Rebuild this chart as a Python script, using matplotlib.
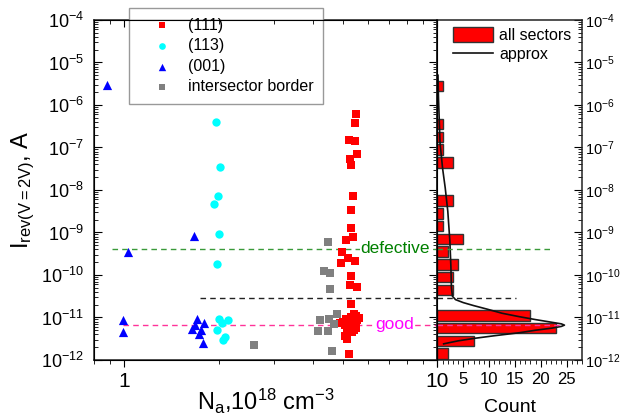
import matplotlib
matplotlib.use('Agg')
import matplotlib.pyplot as plt
from matplotlib.patches import Patch
from matplotlib.lines import Line2D
from matplotlib.ticker import LogLocator, MultipleLocator, NullFormatter, FuncFormatter

plt.rcParams['font.family'] = ['Liberation Sans', 'DejaVu Sans']
plt.rcParams['mathtext.fontset'] = 'custom'
plt.rcParams['mathtext.rm'] = 'Liberation Sans'
plt.rcParams['mathtext.it'] = 'Liberation Sans:italic'
plt.rcParams['mathtext.bf'] = 'Liberation Sans:bold'

# (111) sectors
na_111 = [5.49, 5.45, 5.2, 5.47, 5.55, 5.26, 5.29, 5.38, 5.3, 5.29, 5.36, 5.11, 4.95, 5.18,
          4.93, 5.45, 5.29, 5.26, 5.55, 5.29, 5.06, 5.13, 5.23,
          5.0, 5.1, 5.2, 5.3, 5.4, 5.5, 5.55, 5.45, 5.3, 5.15, 5.4, 5.25, 4.9, 5.6, 5.35, 5.5, 5.05]
i_111 = [6.3e-7, 3.8e-7, 1.5e-7, 1.4e-7, 7.0e-8, 5.3e-8, 3.8e-8, 7.2e-9, 3.4e-9, 1.3e-9, 7.9e-10,
         6.6e-10, 3.4e-10, 2.5e-10, 1.9e-10, 2.1e-10, 9.5e-11, 5.8e-11, 5.3e-11, 2.1e-11, 3.6e-12,
         3.2e-12, 1.4e-12,
         8e-12, 9e-12, 7e-12, 1.0e-11, 1.2e-11, 1.1e-11, 8.5e-12, 6.5e-12, 6e-12, 5.5e-12, 5e-12,
         8e-12, 7.5e-12, 9.5e-12, 4.5e-12, 5.8e-12, 6.8e-12]

# (113) sectors
na_113 = [1.96, 2.02, 1.99, 1.93, 2.0, 1.97, 2.0, 2.15, 2.05, 1.97, 2.10, 2.07]
i_113 = [3.9e-7, 3.4e-8, 7.2e-9, 4.7e-9, 9.3e-10, 1.8e-10, 9.1e-12, 8.7e-12, 7.3e-12, 5.2e-12,
         3.5e-12, 3.0e-12]

# (001) sectors
na_001 = [0.88, 1.03, 0.99, 0.99, 1.67, 1.71, 1.65, 1.80, 1.76, 1.73, 1.78, 1.68]
i_001 = [2.9e-6, 3.5e-10, 8.5e-12, 4.6e-12, 8.3e-10, 9.1e-12, 5.5e-12, 7.6e-12, 5.1e-12,
         4.1e-12, 2.5e-12, 6.6e-12]

# intersector border
na_border = [4.47, 4.35, 4.53, 4.55, 4.21, 4.49, 4.77, 4.16, 4.47, 4.6, 2.6, 4.67]
i_border = [6.0e-10, 1.26e-10, 1.1e-10, 4.6e-11, 8.5e-12, 9.1e-12, 1.2e-11, 4.9e-12, 4.9e-12,
            1.6e-12, 2.2e-12, 7.2e-12]

# histogram, all sectors (log10 bin centers, bin width 0.3 decade)
hist_log_center = [-11.85, -11.55, -11.25, -10.95, -10.35, -10.05, -9.75, -9.45, -9.15, -8.85,
                   -8.55, -8.25, -7.35, -7.05, -6.75, -6.45, -5.55]
hist_count = [2, 7, 23, 18, 3, 3, 4, 2, 5, 1, 1, 3, 3, 1, 1, 1, 1]
bin_width = 0.3

# approximation curve
approx_count = [0.1, 0.2, 0.5, 1.0, 1.5, 2.0, 2.4, 2.6, 2.7, 2.9, 3.5, 5.0, 7.0, 9.5, 12.5, 15.8,
                19.0, 22.0, 24.0, 24.6, 24.0, 22.2, 19.0, 15.8, 11.0, 7.2, 4.0, 1.2]
approx_log = [-5.3, -5.85, -6.9, -7.5, -7.95, -8.5, -9.2, -9.8, -10.3, -10.5, -10.58, -10.65,
              -10.72, -10.8, -10.9, -10.98, -11.05, -11.11, -11.15, -11.18, -11.21, -11.25,
              -11.3, -11.36, -11.43, -11.49, -11.55, -11.62]

level_defective = 4.1e-10
level_border = 2.9e-11
level_good = 6.7e-12

fig = plt.figure(figsize=(6.2, 4.18), dpi=100)
ax = fig.add_axes([0.1516, 0.1388, 0.5540, 0.8134])
axh = fig.add_axes([0.7056, 0.1388, 0.2331, 0.8134])

ax.scatter(na_111, i_111, marker='s', s=26, color='#ff0000', label='(111)', zorder=3, linewidths=0)
ax.scatter(na_113, i_113, marker='o', s=36, color='#00ffff', label='(113)', zorder=3, linewidths=0)
ax.scatter(na_001, i_001, marker='^', s=44, color='#0000ff', label='(001)', zorder=3, linewidths=0)
ax.scatter(na_border, i_border, marker='s', s=26, color='#808080', label='intersector border',
           zorder=3, linewidths=0)

ax.plot([0.915, 10], [level_defective] * 2, color='#3a9a3a', ls=(0, (4, 3)), lw=1)
ax.plot([1.75, 10], [level_border] * 2, color='#222222', ls=(0, (4, 3)), lw=1)
ax.plot([0.99, 10], [level_good] * 2, color='#ff3399', ls=(0, (4, 3)), lw=1)
ax.text(7.3, level_defective, 'defective', color='#008000', fontsize=12.5, ha='center',
        va='center', bbox=dict(facecolor='white', edgecolor='none', pad=0.3))
ax.text(7.3, level_good, 'good', color='#ff00ff', fontsize=12.5, ha='center', va='center',
        bbox=dict(facecolor='white', edgecolor='none', pad=0.3))

ax.set_xscale('log')
ax.set_yscale('log')
ax.set_xlim(0.80, 10)
ax.set_ylim(1e-12, 1e-4)
ax.yaxis.set_major_locator(LogLocator(base=10, numticks=20))
ax.yaxis.set_minor_locator(LogLocator(base=10, subs=range(2, 10), numticks=20))
ax.yaxis.set_minor_formatter(NullFormatter())
ax.xaxis.set_major_locator(LogLocator(base=10, numticks=10))
ax.xaxis.set_major_formatter(FuncFormatter(lambda v, p: '%g' % v))
ax.xaxis.set_minor_locator(LogLocator(base=10, subs=range(2, 10), numticks=10))
ax.xaxis.set_minor_formatter(NullFormatter())
ax.tick_params(axis='y', which='both', direction='in', left=True, right=True, labelsize=13, pad=7)
ax.tick_params(axis='y', which='major', length=6)
ax.tick_params(axis='y', which='minor', length=3)
ax.tick_params(axis='x', which='both', direction='out', labelsize=15)
ax.tick_params(axis='x', which='major', length=5)
ax.tick_params(axis='x', which='minor', length=3)

axt = ax.twiny()
axt.set_xscale('log')
axt.set_xlim(ax.get_xlim())
axt.xaxis.set_minor_locator(LogLocator(base=10, subs=range(2, 10), numticks=10))
axt.tick_params(axis='x', which='both', direction='in', labeltop=False)
axt.tick_params(axis='x', which='major', length=5)
axt.tick_params(axis='x', which='minor', length=3)

ax.set_xlabel('N$_\\mathregular{a}$,10$^\\mathregular{18}$ cm$^\\mathregular{-3}$', fontsize=17, labelpad=-3)
ax.set_ylabel('I$_\\mathregular{rev(V=2V)}$, A', fontsize=17, labelpad=3)

leg = ax.legend(loc='upper left', bbox_to_anchor=(129 / 620, 1 - 8 / 418),
                bbox_transform=fig.transFigure, fontsize=11.5, frameon=True, fancybox=False,
                edgecolor='#808080', handlelength=2.9, handletextpad=0.2, borderpad=0.6,
                borderaxespad=0, labelspacing=0.35, scatterpoints=1, markerscale=0.8)
leg.get_frame().set_linewidth(1.0)
leg.set_zorder(5)

# histogram panel
for c, n in zip(hist_log_center, hist_count):
    lo = 10 ** (c - bin_width * 0.42)
    hi = 10 ** (c + bin_width * 0.42)
    axh.barh(lo, n, height=hi - lo, align='edge', color='#ff0000', edgecolor='#333333', lw=1)
axh.plot(approx_count, [10 ** v for v in approx_log], color='#111111', lw=1.2)
axh.plot([0, 22.1], [level_defective] * 2, color='#3a9a3a', ls=(0, (4, 3)), lw=1)
axh.plot([0, 15.3], [level_border] * 2, color='#222222', ls=(0, (4, 3)), lw=1)
axh.plot([0, 24.0], [level_good] * 2, color='#ff3399', ls=(0, (4, 3)), lw=1)

axh.set_yscale('log')
axh.set_ylim(1e-12, 1e-4)
axh.set_xlim(0, 28)
axh.yaxis.set_major_locator(LogLocator(base=10, numticks=20))
axh.yaxis.set_minor_locator(LogLocator(base=10, subs=range(2, 10), numticks=20))
axh.yaxis.set_minor_formatter(NullFormatter())
axh.yaxis.tick_right()
axh.tick_params(axis='y', which='both', direction='in', labelsize=10.5, pad=2)
axh.tick_params(axis='y', which='major', length=6)
axh.tick_params(axis='y', which='minor', length=3)
axh.set_xticks([0, 5, 10, 15, 20, 25])
axh.set_xticklabels(['', '5', '10', '15', '20', '25'])
axh.xaxis.set_minor_locator(MultipleLocator(1))
axh.tick_params(axis='x', which='both', direction='out', labelsize=12)
axh.tick_params(axis='x', which='major', length=5)
axh.tick_params(axis='x', which='minor', length=3)
axh.set_xlabel('Count', fontsize=14, labelpad=9)

hist_handles = [Patch(facecolor='#ff0000', edgecolor='#333333'),
                Line2D([], [], color='#111111', lw=1.2)]
axh.legend(hist_handles, ['all sectors', 'approx'], loc='upper left',
           bbox_to_anchor=(453 / 620, 1 - 27 / 418), bbox_transform=fig.transFigure,
           frameon=False, fontsize=11.5, handlelength=2.5, handleheight=1.1, handletextpad=0.4,
           borderpad=0, borderaxespad=0, labelspacing=0.2)

for a in (ax, axh):
    for sp in a.spines.values():
        sp.set_linewidth(1.1)
        sp.set_color('#222222')

fig.savefig('out.png', dpi=100)
